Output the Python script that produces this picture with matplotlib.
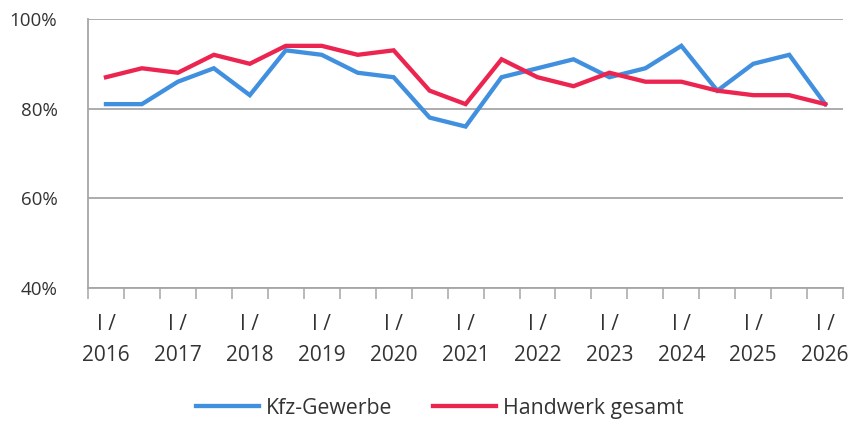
import matplotlib.pyplot as plt

# half-year periods I/2016 .. I/2026
periods = []
for year in range(2016, 2027):
    periods.append('I / ' + str(year))
    if year < 2026:
        periods.append('II / ' + str(year))

kfz = [81, 81, 86, 89, 83, 93, 92, 88, 87, 78, 76,
       87, 89, 91, 87, 89, 94, 84, 90, 92, 81]
handwerk = [87, 89, 88, 92, 90, 94, 94, 92, 93, 84, 81,
            91, 87, 85, 88, 86, 86, 84, 83, 83, 81]

plt.rcParams['font.family'] = ['Open Sans', 'DejaVu Sans']

fig = plt.figure(figsize=(8.5, 4.21), dpi=100)
ax = fig.add_axes([0.1035, 0.316, 0.8885, 0.639])

x = list(range(len(periods)))
ax.plot(x, kfz, color='#4190E0', lw=3.1, label='Kfz-Gewerbe', solid_joinstyle='miter')
ax.plot(x, handwerk, color='#EC2550', lw=3.1, label='Handwerk gesamt', solid_joinstyle='miter')

ax.set_ylim(40, 100)
ax.set_yticks([40, 60, 80, 100])
ax.set_yticklabels(['40%', '60%', '80%', '100%'], fontsize=13.5, color='#333333')
ax.yaxis.grid(True, color='#A6A6A6', lw=1.3)
ax.tick_params(axis='y', length=0, pad=22)

ax.set_xlim(-0.5, len(periods) - 0.5)
ax.set_xticks([i - 0.5 for i in range(len(periods) + 1)])
ax.set_xticklabels([])
ax.tick_params(axis='x', which='major', length=8, width=1.1, color='#A6A6A6', direction='out')
ax.set_xticks(x[::2], minor=True)
ax.set_xticklabels([p.replace(' / ', ' /\n') for p in periods[::2]], minor=True,
                   fontsize=15, color='#333333', linespacing=1.6)
ax.tick_params(axis='x', which='minor', length=0, pad=19)

for s in ['top', 'right']:
    ax.spines[s].set_visible(False)
ax.spines['left'].set_color('#A6A6A6')
ax.spines['left'].set_linewidth(1.3)
ax.spines['bottom'].set_color('#A6A6A6')
ax.spines['bottom'].set_linewidth(1.3)
ax.set_axisbelow(True)

fig.legend(loc='center', bbox_to_anchor=(0.517, 0.03), ncol=2, frameon=False,
           handlelength=3.0, columnspacing=1.9, handletextpad=0.3,
           labelcolor='#333333', prop={'family': ['Open Sans', 'DejaVu Sans'], 'size': 15.3})

fig.savefig('out.png', dpi=100)
